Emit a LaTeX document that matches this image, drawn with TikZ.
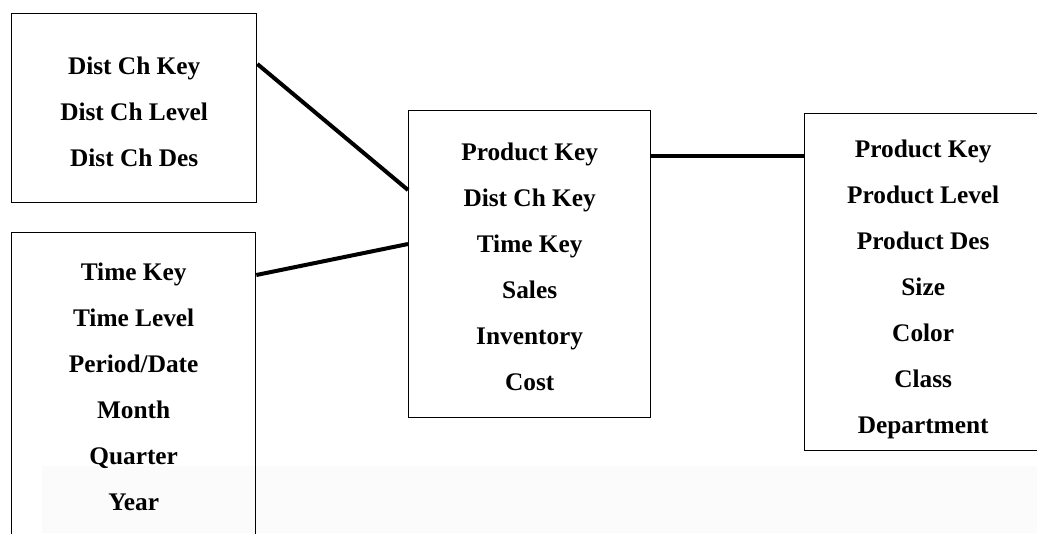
\documentclass[tikz,border=0pt]{standalone}
\usepackage{fontspec}
\setmainfont{Liberation Serif}
\usetikzlibrary{positioning,calc}
\newcommand{\padtop}[1]{\rule{0pt}{#1}}

\begin{document}
\begin{tikzpicture}[
  x=0.75pt, y=-0.75pt,
  tablebox/.style={draw=black, line width=1pt, anchor=north west, align=center, inner sep=0pt, font=\fontsize{19}{34.5}\selectfont\bfseries},
  link/.style={draw=black, line width=3pt}
]
\useasboundingbox (0,0) rectangle (1037,533);
% faint scan tint along the bottom
\fill[black!1.5] (42,466) rectangle (1037,533);

\node[tablebox, minimum width=183.75pt, minimum height=141.75pt] (dist) at (11,13) {\padtop{18.9pt}Dist Ch Key\\Dist Ch Level\\Dist Ch Des};
\node[tablebox, minimum width=183pt, minimum height=231.75pt] (time) at (11,232) {Time Key\\Time Level\\Period/Date\\Month\\Quarter\\Year};
\node[tablebox, minimum width=181.5pt, minimum height=230.25pt] (fact) at (408,110) {\padtop{17.4pt}Product Key\\Dist Ch Key\\Time Key\\Sales\\Inventory\\Cost};
\node[tablebox, minimum width=177.75pt, minimum height=252.75pt] (prod) at (804,113) {\padtop{23.4pt}Product Key\\Product Level\\Product Des\\Size\\Color\\Class\\Department};

\draw[link] ([yshift=-38.25pt]dist.north east) -- ([yshift=-60pt]fact.north west);
\draw[link] ([yshift=-32.25pt]time.north east) -- ([yshift=-100.5pt]fact.north west);
\draw[link] ([yshift=-34.5pt]fact.north east) -- ([yshift=-32.25pt]prod.north west);
\end{tikzpicture}
\end{document}
